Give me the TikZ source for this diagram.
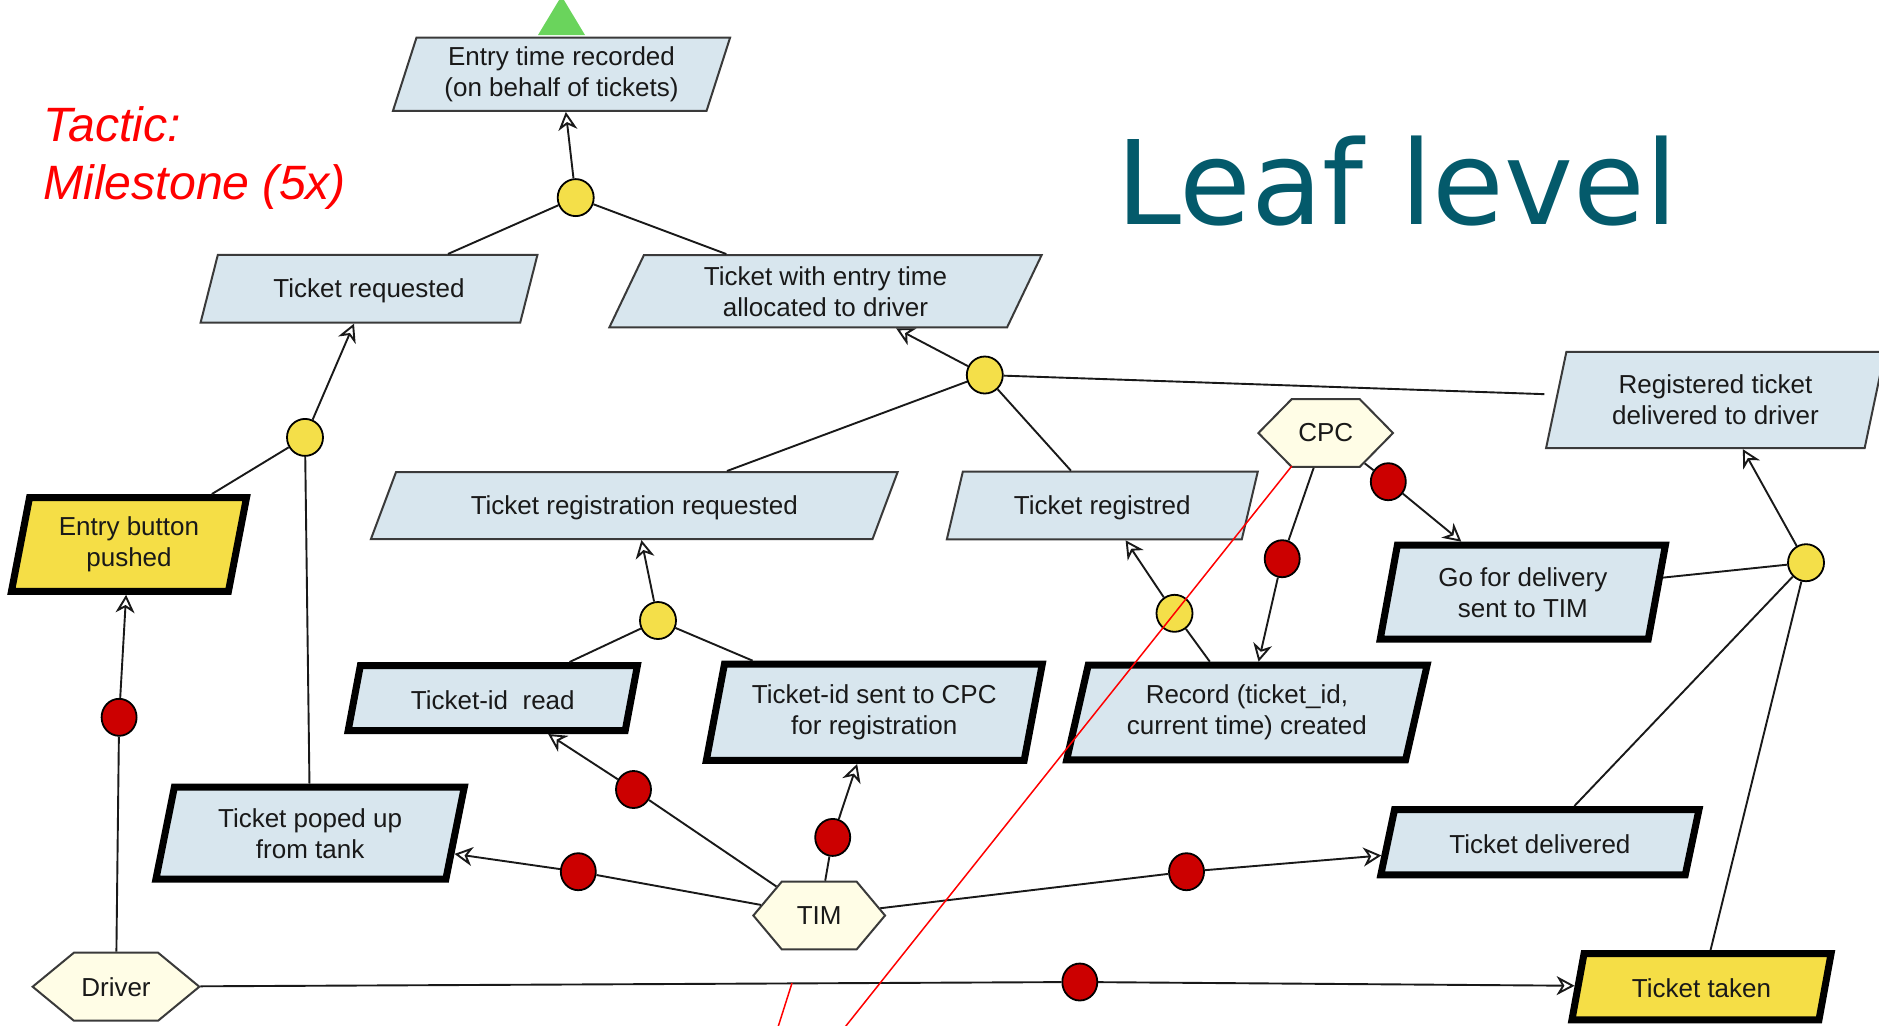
\documentclass[tikz,border=0pt]{standalone}
\usepackage{fontspec}
\setmainfont{Liberation Sans}
\newfontfamily\titlefont{DejaVu Sans}
\usetikzlibrary{shapes.geometric,shapes.symbols,arrows.meta}

\definecolor{evfill}{RGB}{216,230,238}
\definecolor{evline}{RGB}{58,58,58}
\definecolor{goalyellow}{RGB}{245,222,70}
\definecolor{andyellow}{RGB}{244,223,73}
\definecolor{actred}{RGB}{204,0,0}
\definecolor{agentfill}{RGB}{255,253,230}
\definecolor{titleteal}{RGB}{4,90,107}
\definecolor{topgreen}{RGB}{106,212,92}

\newcommand\evfont{\fontsize{13}{15.5}\selectfont}

\tikzset{
  % parallelogram: total width, height (px), bottom-left and bottom-right angles
  evbox/.style n args={4}{shape=trapezium, trapezium stretches=true,
    minimum width=#1*0.5pt, minimum height=#2*0.5pt,
    trapezium left angle=#3, trapezium right angle=#4,
    inner sep=0pt, align=center, font=\evfont, text=black!90,
    execute at begin node={\rule{0pt}{11.2pt}}},
  thinev/.style={draw=evline, line width=1pt, fill=evfill},
  thickev/.style={draw=black, line width=3.5pt, fill=evfill},
  goalev/.style={draw=black, line width=3.5pt, fill=goalyellow},
  andnode/.style={ellipse, draw=black, line width=0.9pt, fill=andyellow,
    minimum width=18pt, minimum height=18.5pt, inner sep=0pt},
  actnode/.style={ellipse, draw=black, line width=0.9pt, fill=actred,
    minimum width=17.5pt, minimum height=18.5pt, inner sep=0pt},
  agent/.style n args={3}{shape=signal, signal to=east and west,
    signal pointer angle=#3, draw=evline, line width=1pt, fill=agentfill,
    minimum width=#1*0.5pt, minimum height=#2*0.5pt, inner sep=0pt,
    font=\evfont, text=black!90},
  link/.style={draw=black!90, line width=0.95pt},
  arrowlink/.style={link, -{Stealth[open, length=9pt, width=9.5pt, inset=2.8pt]}},
  markline/.style={draw=red, line width=0.75pt}
}

\begin{document}
\begin{tikzpicture}[x=0.5pt, y=-0.5pt]
\useasboundingbox (0,0) rectangle (1879,1025);
\clip (0,0) rectangle (1879,1025);

% headings
\node[anchor=base west, inner sep=0pt, text=titleteal,
      font=\titlefont\fontsize{58.3}{70}\selectfont] (title) at (1116,224.3) {Leaf level};
\node[anchor=base west, inner sep=0pt, text=red,
      font=\itshape\fontsize{24.1}{28}\selectfont] (tactic1) at (43,141.7) {Tactic:};
\node[anchor=base west, inner sep=0pt, text=red,
      font=\itshape\fontsize{24.1}{28}\selectfont] (tactic2) at (43,199.3) {Milestone (5x)};

% parent goal marker
\fill[topgreen] (538,35) -- (561.5,-4) -- (585,35) -- cycle;

% goals / events
\node[evbox={337.6}{73.3}{71}{109}, thinev] (entry) at (561.5,74.3)
  {Entry time recorded\\(on behalf of tickets)};
\node[evbox={337}{67.7}{68.6}{111.4}, thinev] (treq) at (369,288.8)
  {Ticket requested};
\node[evbox={433}{72.3}{65.2}{114.8}, thinev] (talloc) at (825.5,291.2)
  {Ticket with entry time\\allocated to driver};
\node[evbox={339}{96.3}{74.3}{105.7}, thinev] (regdel) at (1715.5,400)
  {Registered ticket\\delivered to driver};
\node[evbox={527.5}{67}{58.2}{121.8}, thinev] (regreq) at (634.3,505.5)
  {Ticket registration requested};
\node[evbox={312.5}{67.6}{70}{110}, thinev] (treg) at (1102.3,505.5)
  {Ticket registred};

\node[evbox={291.6}{65}{71.6}{108.4}, thickev] (tidread) at (492.8,698)
  {Ticket-id\ \ read};
\node[evbox={336.6}{96.3}{75}{105}, thickev] (tidsent) at (874.3,712.3)
  {Ticket-id sent to CPC\\for registration};
\node[evbox={360.6}{94.6}{73.6}{106.4}, thickev] (record) at (1246.9,712.5)
  {Record (ticket\_id,\\current time) created};
\node[evbox={285.6}{94}{77}{103}, thickev] (gofor) at (1522.8,592.2)
  {Go for delivery\\sent to TIM};
\node[evbox={321.2}{65.3}{69.3}{110.7}, thickev] (tdeliv) at (1539.9,842.2)
  {Ticket delivered};
\node[evbox={308.4}{92}{76}{104}, thickev] (popped) at (310.1,833.2)
  {Ticket poped up\\from tank};
\node[evbox={236.6}{93.8}{77}{103}, goalev] (entrybtn) at (129,544.4)
  {Entry button\\pushed};
\node[evbox={259.6}{66.3}{72.4}{107.6}, goalev] (ttaken) at (1701.5,986.7)
  {Ticket taken};

% agents
\node[agent={134.6}{67.7}{91}] (cpc) at (1325.7,433) {CPC};
\node[agent={131.7}{67.6}{100}] (tim) at (819.2,915.5) {TIM};
\node[agent={166.7}{68}{79}] (driver) at (116,986.7) {Driver};

% refinement junctions
\node[andnode] (and1) at (575.7,197.6) {};
\node[andnode] (and2) at (984.8,375) {};
\node[andnode] (and3) at (658,620.5) {};
\node[andnode] (and4) at (1806,562.7) {};
\node[andnode] (and5) at (305,437.4) {};
\node[andnode] (and6) at (1174.5,613.3) {};

% responsibility markers
\node[actnode] (r1) at (1388.3,481.7) {};
\node[actnode] (r2) at (1282.2,558.7) {};
\node[actnode] (r3) at (119.1,717.3) {};
\node[actnode] (r4) at (633.5,789.5) {};
\node[actnode] (r5) at (832.7,837.4) {};
\node[actnode] (r6) at (578.3,871.7) {};
\node[actnode] (r7) at (1186.5,871.7) {};
\node[actnode] (r8) at (1079.8,982) {};

% refinement links
\draw[arrowlink] (and1) -- (entry);
\draw[link] (and1) -- (treq);
\draw[link] (and1) -- (talloc);
\draw[arrowlink] (and5) -- (treq);
\draw[link] (and5) -- (entrybtn);
\draw[link] (and5) -- (popped);
\draw[arrowlink] (and2) -- (talloc);
\draw[link] (and2) -- (regreq);
\draw[link] (and2) -- (treg);
\draw[link, shorten >=6pt] (and2) -- (regdel);
\draw[arrowlink] (and3) -- (regreq);
\draw[link] (and3) -- (tidread);
\draw[link] (and3) -- (tidsent);
\draw[arrowlink] (and6) -- (treg);
\draw[link] (and6) -- (record);
\draw[arrowlink] (and4) -- (regdel);
\draw[link] (and4) -- (gofor);
\draw[link] (and4) -- (tdeliv);
\draw[link] (and4) -- (ttaken);

% responsibility links
\draw[link] (cpc) -- (r1);  \draw[arrowlink] (r1) -- (gofor);
\draw[link] (cpc) -- (r2);  \draw[arrowlink] (r2) -- (record);
\draw[link] (driver) -- (r3);  \draw[arrowlink] (r3) -- (entrybtn);
\draw[link] (tim) -- (r4);  \draw[arrowlink] (r4) -- (tidread);
\draw[link] (tim) -- (r5);  \draw[arrowlink] (r5) -- (tidsent);
\draw[link] (tim) -- (r6);  \draw[arrowlink] (r6) -- (popped);
\draw[link] (tim) -- (r7);  \draw[arrowlink] (r7) -- (tdeliv);
\draw[link] (driver) -- (r8);  \draw[arrowlink] (r8) -- (ttaken);

% red pen strokes
\coordinate (m1a) at (1291.8,466);
\coordinate (m1b) at (838.7,1035);
\coordinate (m2a) at (792,983);
\coordinate (m2b) at (775.5,1035);
\draw[markline] (m1a) -- (m1b);
\draw[markline] (m2a) -- (m2b);
\end{tikzpicture}
\end{document}
